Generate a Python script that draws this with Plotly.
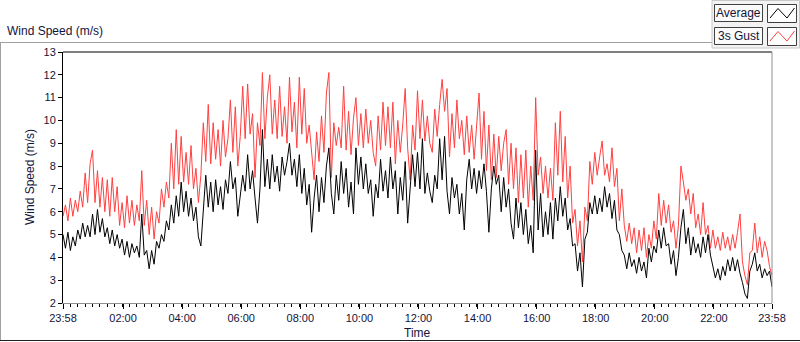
import pandas as pd
import plotly.graph_objects as go

# ---- data (5-minute samples from 23:58 to 23:58) ----
start_time = "2024-01-01 23:58"
n_points = 289
times = pd.date_range(start=start_time, periods=n_points, freq="5min")

gust = [
    5.8, 6.3, 5.6, 6.6, 5.8, 6.5, 6.0, 6.9, 6.2, 7.7, 6.4, 8.1,
    8.7, 6.4, 7.8, 6.2, 7.5, 6.0, 7.4, 5.8, 7.5, 6.0, 7.1, 5.4,
    6.4, 5.3, 6.7, 5.5, 6.5, 5.4, 6.3, 5.6, 7.8, 5.4, 6.5, 5.0,
    6.2, 4.8, 6.0, 5.5, 7.0, 6.2, 7.3, 6.6, 9.0, 7.0, 9.6, 7.2,
    9.3, 7.3, 8.6, 7.2, 8.9, 7.0, 7.9, 6.4, 7.6, 9.9, 8.2, 10.7,
    8.1, 9.9, 8.3, 9.6, 8.0, 10.0, 8.4, 9.2, 10.9, 8.6, 10.6, 8.0,
    9.3, 11.5, 9.2, 11.6, 9.4, 10.3, 7.5, 9.9, 8.9, 12.1, 9.2, 11.0,
    12.0, 9.4, 10.9, 9.2, 11.5, 9.3, 10.6, 9.0, 11.9, 9.5, 10.8, 8.8,
    11.9, 9.4, 11.4, 9.0, 9.8, 8.7, 7.4, 9.5, 8.2, 10.2, 8.6, 11.2,
    12.1, 7.5, 9.9, 8.9, 9.7, 8.8, 11.5, 8.7, 10.4, 8.5, 10.1, 11.0,
    8.9, 10.3, 8.8, 10.5, 9.0, 10.0, 8.6, 8.0, 10.2, 8.7, 10.8, 8.9,
    10.6, 8.8, 10.8, 8.1, 10.0, 8.6, 9.8, 11.4, 8.8, 7.4, 9.8, 8.7,
    11.3, 9.2, 10.9, 9.1, 10.2, 9.0, 8.6, 10.5, 9.3, 10.7, 11.8, 10.4,
    11.4, 8.4, 10.3, 8.8, 10.9, 9.2, 10.0, 8.5, 10.2, 8.6, 9.8, 8.3,
    10.0, 11.2, 8.3, 10.4, 7.8, 9.8, 7.4, 9.4, 7.5, 9.3, 7.8, 9.0,
    9.6, 7.2, 9.0, 7.0, 8.8, 6.4, 8.5, 6.6, 8.7, 6.2, 8.0, 6.5,
    11.0, 7.6, 8.4, 6.8, 8.0, 6.6, 7.9, 6.5, 9.9, 7.6, 10.4, 7.3,
    9.3, 6.6, 8.0, 5.5, 6.1, 4.5, 5.6, 3.8, 6.2, 5.6, 8.2, 7.2,
    8.6, 7.6, 8.4, 9.1, 7.6, 8.1, 7.3, 8.8, 7.1, 7.9, 5.6, 7.0,
    5.4, 4.7, 5.5, 4.6, 5.3, 4.2, 5.2, 4.3, 5.3, 4.0, 5.0, 4.4,
    5.6, 4.8, 6.8, 5.4, 6.5, 5.5, 6.3, 5.1, 5.6, 4.4, 5.4, 8.0,
    7.3, 6.5, 7.0, 5.9, 6.8, 5.3, 5.9, 5.0, 6.4, 5.0, 5.4, 4.4,
    5.2, 4.4, 4.9, 4.3, 5.1, 4.4, 4.9, 4.3, 5.0, 4.4, 5.1, 5.9,
    3.8, 3.2, 2.8, 4.2, 4.3, 5.5, 4.2, 4.9, 4.0, 4.7, 4.3, 3.6,
    3.2,
]

average = [
    5.0, 4.4, 5.1, 4.3, 4.9, 4.5, 5.2, 4.8, 5.5, 4.9, 5.4, 4.9,
    5.9, 5.0, 6.1, 5.1, 5.7, 4.9, 5.3, 4.6, 5.2, 4.5, 5.0, 4.4,
    4.8, 4.1, 4.7, 4.0, 4.6, 4.2, 4.5, 4.0, 5.9, 4.1, 4.3, 3.5,
    4.3, 3.7, 4.7, 4.4, 5.0, 4.7, 5.6, 5.2, 6.3, 5.5, 6.7, 5.8,
    7.3, 6.0, 6.9, 5.8, 6.6, 5.6, 6.2, 4.9, 4.5, 6.3, 7.6, 6.2,
    7.3, 6.0, 7.4, 6.3, 7.1, 6.1, 7.4, 6.8, 8.2, 7.0, 7.5, 5.8,
    6.6, 7.6, 6.9, 8.5, 7.0, 7.8, 6.6, 5.5, 7.0, 9.6, 7.1, 8.3,
    7.0, 8.5, 7.3, 8.0, 6.9, 8.4, 7.6, 8.2, 9.0, 7.6, 8.3, 7.1,
    8.5, 6.8, 7.9, 6.3, 7.2, 5.1, 6.6, 7.6, 6.0, 7.5, 6.4, 8.0,
    8.8, 6.8, 5.9, 7.6, 6.5, 8.2, 6.8, 7.9, 6.2, 7.3, 5.9, 8.8,
    7.2, 8.4, 7.0, 8.1, 6.8, 7.4, 5.8, 7.2, 6.6, 8.3, 6.9, 7.8,
    6.6, 8.4, 7.0, 7.8, 5.9, 7.5, 6.5, 8.2, 5.5, 7.0, 8.5, 7.1,
    8.6, 7.0, 9.2, 6.8, 7.7, 6.9, 6.4, 7.6, 7.0, 9.2, 7.4, 9.3,
    6.9, 5.9, 7.5, 6.6, 7.2, 5.9, 6.8, 5.2, 7.4, 8.3, 7.0, 7.9,
    6.8, 7.8, 7.0, 8.1, 6.9, 5.1, 7.0, 8.0, 7.2, 7.6, 6.0, 7.5,
    6.2, 7.0, 5.5, 4.8, 6.6, 5.3, 6.4, 5.0, 6.1, 4.6, 5.4, 4.2,
    8.7, 5.2, 6.8, 4.9, 6.0, 5.0, 6.4, 4.8, 6.6, 5.6, 7.1, 5.8,
    6.6, 5.2, 5.7, 4.5, 4.6, 3.4, 4.2, 2.7, 4.8, 5.1, 6.4, 5.9,
    6.7, 5.9, 6.6, 6.0, 7.1, 6.2, 6.8, 5.7, 6.5, 5.2, 5.0, 4.3,
    4.1, 3.5, 4.2, 3.6, 3.9, 3.3, 4.0, 3.4, 3.8, 3.1, 4.4, 3.8,
    4.5, 4.2, 5.2, 4.4, 5.3, 4.5, 4.6, 3.7, 4.3, 3.2, 4.0, 5.3,
    6.1, 4.6, 5.3, 4.1, 4.9, 4.2, 4.6, 4.0, 4.9, 4.2, 5.0, 4.1,
    3.6, 3.1, 3.5, 3.0, 3.6, 3.2, 3.9, 3.4, 4.0, 3.4, 3.9, 3.3,
    2.9, 2.4, 2.2, 3.4, 3.7, 4.2, 3.4, 3.7, 3.1, 3.5, 3.2, 3.4,
    2.7,
]

tick_values = ["2024-01-01 23:58", "2024-01-02 02:00", "2024-01-02 04:00",
               "2024-01-02 06:00", "2024-01-02 08:00", "2024-01-02 10:00",
               "2024-01-02 12:00", "2024-01-02 14:00", "2024-01-02 16:00",
               "2024-01-02 18:00", "2024-01-02 20:00", "2024-01-02 22:00",
               "2024-01-02 23:58"]
tick_labels = ["23:58", "02:00", "04:00", "06:00", "08:00", "10:00", "12:00",
               "14:00", "16:00", "18:00", "20:00", "22:00", "23:58"]
y_ticks = list(range(2, 14))

series_names = ["Average", "3s Gust"]

# ---- layout geometry (pixels) ----
W, H = 800, 342
L, R, T, B = 63, 772, 52, 303
FONT = "Liberation Sans"
TXT = "#14143a"


def px(x):
    return (x - L) / (R - L)


def py(y):
    return (B - y) / (B - T)


fig = go.Figure()
fig.add_trace(go.Scatter(x=times, y=gust, mode="lines", name=series_names[1],
                         line=dict(color="#ff4040", width=1), showlegend=False))
fig.add_trace(go.Scatter(x=times, y=average, mode="lines", name=series_names[0],
                         line=dict(color="#000000", width=1), showlegend=False))

shapes = []


def line(x0, y0, x1, y1, color, width=1):
    shapes.append(dict(type="line", xref="paper", yref="paper",
                       x0=px(x0), y0=py(y0), x1=px(x1), y1=py(y1),
                       line=dict(color=color, width=width), layer="above"))


def rect(x0, y0, x1, y1, color, fill):
    shapes.append(dict(type="rect", xref="paper", yref="paper",
                       x0=px(x0), y0=py(y0), x1=px(x1), y1=py(y1),
                       line=dict(color=color, width=1), fillcolor=fill, layer="above"))


def zig(points, color):
    d = "M " + " L ".join(f"{px(a)},{py(b)}" for a, b in points)
    shapes.append(dict(type="path", xref="paper", yref="paper", path=d,
                       line=dict(color=color, width=1), layer="above"))


# outer graph frame
line(0, 42.5, 712, 42.5, "#a0a0a0")
line(0.5, 42.5, 0.5, 341, "#a0a0a0")
line(0, 340.5, 800, 340.5, "#202020")
# plot frame top/right
line(L, T, R, T, "#000000")
line(R, T, R, B, "#909090")
# legend block
rect(712, 0.5, 799.5, 48, "#c8c8c8", "#f3f3f3")
rect(714.5, 4.5, 762.5, 21.5, "#404040", "#fbfbfb")
rect(767.5, 4.5, 796.5, 22.5, "#404040", "#ffffff")
rect(714.5, 27.5, 762.5, 44.5, "#404040", "#fbfbfb")
rect(767.5, 27.5, 796.5, 45.5, "#404040", "#ffffff")
zig([(770, 18), (778, 8.5), (787, 18), (794.5, 8)], "#000000")
zig([(770, 41), (778, 31.5), (787, 41), (794.5, 31)], "#ff4040")

annotations = [
    dict(text="Wind Speed (m/s)", x=px(5), y=py(31), xanchor="left", yanchor="middle"),
    dict(text=series_names[0], x=px(738.5), y=py(13), xanchor="center", yanchor="middle"),
    dict(text=series_names[1], x=px(738.5), y=py(36), xanchor="center", yanchor="middle"),
    dict(text="Time", x=px(417), y=py(333), xanchor="center", yanchor="middle"),
    dict(text="Wind Speed (m/s)", x=px(30), y=py(177), xanchor="center", yanchor="middle",
         textangle=-90),
]
for a in annotations:
    a.update(xref="paper", yref="paper", showarrow=False,
             font=dict(family=FONT, size=12, color=TXT))

fig.update_layout(
    width=W, height=H,
    margin=dict(l=L, r=W - R, t=T, b=H - B, pad=0),
    paper_bgcolor="white", plot_bgcolor="white",
    font=dict(family=FONT, size=11, color=TXT),
    shapes=shapes, annotations=annotations, showlegend=False,
    xaxis=dict(type="date", range=[tick_values[0], tick_values[-1]],
               tickvals=tick_values, ticktext=tick_labels,
               showgrid=False, zeroline=False,
               showline=True, linecolor="#909090", linewidth=1,
               ticks="outside", ticklen=5, tickcolor="#000000",
               tickfont=dict(family=FONT, size=11, color=TXT),
               minor=dict(ticks="outside", ticklen=3, tickcolor="#000000",
                          dtick=15 * 60 * 1000, tick0=tick_values[0], showgrid=False)),
    yaxis=dict(range=[2, 13], tickvals=y_ticks,
               showgrid=False, zeroline=False,
               showline=True, linecolor="#000000", linewidth=1,
               ticks="outside", ticklen=4, tickcolor="#000000",
               tickfont=dict(family=FONT, size=11, color=TXT)),
)

fig.write_html("out.html",
               config={"displayModeBar": False, "staticPlot": True},
               post_script="document.body.style.margin='0px';document.body.style.overflow='hidden';")
